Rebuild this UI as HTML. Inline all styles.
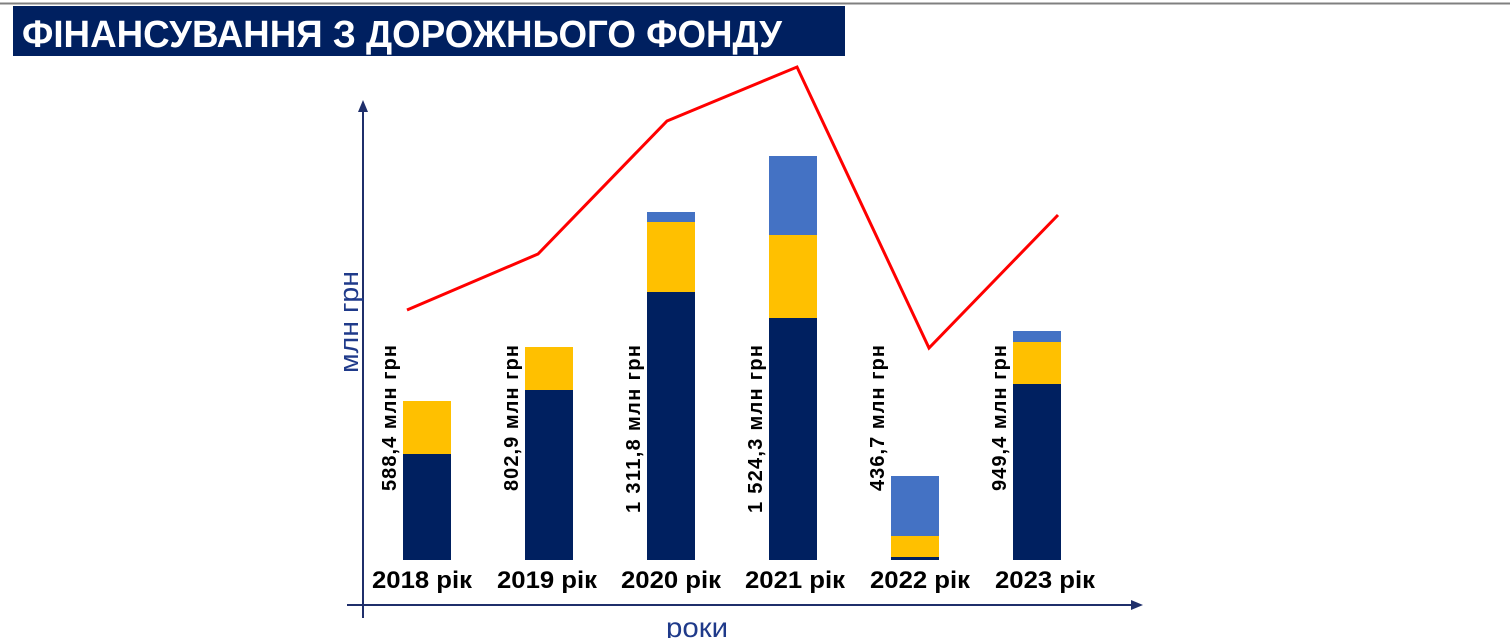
<!DOCTYPE html>
<html><head><meta charset="utf-8"><style>
body{margin:0;width:1510px;height:638px;background:#fff;overflow:hidden;font-family:"Liberation Sans",sans-serif}
</style></head><body>
<svg width="1510" height="638" xmlns="http://www.w3.org/2000/svg" style="position:absolute;left:0;top:0">
<line x1="0" y1="3.5" x2="1510" y2="3.5" stroke="#808080" stroke-width="2"/>
<rect x="13" y="6" width="832" height="50" fill="#002060"/>
<text x="22" y="47" fill="#fff" font-size="38" font-weight="bold" textLength="760" lengthAdjust="spacingAndGlyphs">ФІНАНСУВАННЯ З ДОРОЖНЬОГО ФОНДУ</text>
<line x1="363" y1="618" x2="363" y2="108" stroke="#1f2f6b" stroke-width="2"/>
<polygon points="363,100 358,112 368,112" fill="#1f2f6b"/>
<line x1="347" y1="605" x2="1134" y2="605" stroke="#1f2f6b" stroke-width="2"/>
<polygon points="1143,605 1131,600 1131,610" fill="#1f2f6b"/>
<text transform="translate(358,322) rotate(-90)" text-anchor="middle" font-size="27" fill="#1f3a8a" textLength="102" lengthAdjust="spacingAndGlyphs">млн грн</text>
<text x="697" y="637" text-anchor="middle" font-size="28" fill="#1f3a8a" textLength="62" lengthAdjust="spacingAndGlyphs">роки</text>
<g>
<rect x="403" y="454" width="48" height="106" fill="#002060"/><rect x="403" y="401" width="48" height="53" fill="#ffc000"/>
<rect x="525" y="390" width="48" height="170" fill="#002060"/><rect x="525" y="347" width="48" height="43" fill="#ffc000"/>
<rect x="647" y="292" width="48" height="268" fill="#002060"/><rect x="647" y="222" width="48" height="70" fill="#ffc000"/><rect x="647" y="212" width="48" height="10" fill="#4472c4"/>
<rect x="769" y="318" width="48" height="242" fill="#002060"/><rect x="769" y="235" width="48" height="83" fill="#ffc000"/><rect x="769" y="156" width="48" height="79" fill="#4472c4"/>
<rect x="891" y="557" width="48" height="3" fill="#002060"/><rect x="891" y="536" width="48" height="21" fill="#ffc000"/><rect x="891" y="476" width="48" height="60" fill="#4472c4"/>
<rect x="1013" y="384" width="48" height="176" fill="#002060"/><rect x="1013" y="342" width="48" height="42" fill="#ffc000"/><rect x="1013" y="331" width="48" height="11" fill="#4472c4"/>
</g>
<polyline points="407,310 538,254 667,121 797,67 929,348 1058,215" fill="none" stroke="#ff0000" stroke-width="3"/>
<g font-size="20" font-weight="bold" fill="#000" lengthAdjust="spacingAndGlyphs">
<text transform="translate(396,491) rotate(-90)" textLength="146">588,4 млн грн</text>
<text transform="translate(518,491) rotate(-90)" textLength="146">802,9 млн грн</text>
<text transform="translate(640,513) rotate(-90)" textLength="168">1 311,8 млн грн</text>
<text transform="translate(762,513) rotate(-90)" textLength="168">1 524,3 млн грн</text>
<text transform="translate(884,491) rotate(-90)" textLength="146">436,7 млн грн</text>
<text transform="translate(1006,491) rotate(-90)" textLength="146">949,4 млн грн</text>
</g>
<g font-size="24" font-weight="bold" fill="#000">
<text x="372" y="588" textLength="100" lengthAdjust="spacingAndGlyphs">2018 рік</text>
<text x="497" y="588" textLength="100" lengthAdjust="spacingAndGlyphs">2019 рік</text>
<text x="621" y="588" textLength="100" lengthAdjust="spacingAndGlyphs">2020 рік</text>
<text x="745" y="588" textLength="100" lengthAdjust="spacingAndGlyphs">2021 рік</text>
<text x="870" y="588" textLength="100" lengthAdjust="spacingAndGlyphs">2022 рік</text>
<text x="995" y="588" textLength="100" lengthAdjust="spacingAndGlyphs">2023 рік</text>
</g>
</svg>
</body></html>
